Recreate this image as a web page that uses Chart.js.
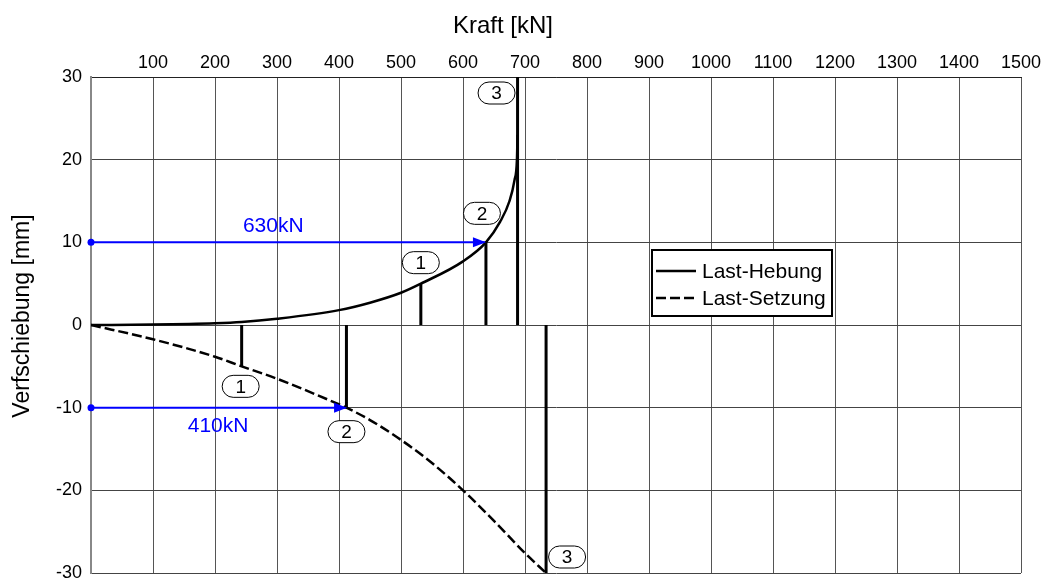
<!DOCTYPE html>
<html>
<head>
<meta charset="utf-8">
<script src="https://cdn.jsdelivr.net/npm/chart.js@4/dist/chart.umd.min.js"></script>
<style>
    html, body { margin: 0; padding: 0; background: #fff; }
    #wrap { width: 1041px; height: 578px; }
</style>
</head>
<body>
<div id="wrap"><canvas id="chart"></canvas></div>
<script>
// Values (Kraft in kN, Verschiebung in mm)
const hebungKraft = [0, 100, 200, 243, 300, 400, 450, 500, 532, 600, 637, 660, 675, 683, 687, 688];
const hebungWeg = [0, 0.05, 0.2, 0.35, 0.75, 1.8, 2.7, 3.9, 5, 7.7, 10, 12.5, 15, 17.5, 20, 23];
const setzungKraft = [0, 100, 200, 243, 300, 400, 412, 450, 500, 550, 600, 650, 700, 734];
const setzungWeg = [0, -1.73, -3.84, -5, -6.5, -9.6, -10, -11.5, -13.9, -16.7, -20, -23.7, -27.6, -30];

// Stufen 1-3 on each curve
const stufenLabels = ['1', '2', '3'];
const hebungStufeKraft = [532, 637, 688];
const hebungStufeWeg = [5, 10, 30];
const setzungStufeKraft = [243, 412, 734];
const setzungStufeWeg = [-5, -10, -30];

// Read-off arrows
const ablesungWeg = [10, -10];
const ablesungKraft = [637, 413];
const ablesungLabels = ['630kN', '410kN'];

// Axes
const kraftTicks = [0, 100, 200, 300, 400, 500, 600, 700, 800, 900, 1000, 1100, 1200, 1300, 1400, 1500];
const wegTicks = [-30, -20, -10, 0, 10, 20, 30];
const xTitle = 'Kraft [kN]';
const yTitle = 'Verfschiebung [mm]';

const FONT = "'Liberation Sans', Arial, sans-serif";
Chart.defaults.font.family = FONT;
Chart.defaults.color = '#000';

function pts(xs, ys) {
    return xs.map((x, i) => ({ x: x, y: ys[i] }));
}

// Build datasets
const datasets = [
    {
        label: 'Last-Hebung',
        data: pts(hebungKraft, hebungWeg),
        borderColor: '#000',
        borderWidth: 2.5,
        pointRadius: 0,
        cubicInterpolationMode: 'monotone',
        showLine: true
    },
    {
        label: 'Last-Setzung',
        data: pts(setzungKraft, setzungWeg),
        borderColor: '#000',
        borderWidth: 2.5,
        borderDash: [10, 4],
        pointRadius: 0,
        cubicInterpolationMode: 'monotone',
        showLine: true
    }
];

// Vertical stage lines
[[hebungStufeKraft, hebungStufeWeg], [setzungStufeKraft, setzungStufeWeg]].forEach(([ks, ws]) => {
    ks.forEach((k, i) => {
        datasets.push({
            label: 'stufe',
            data: [{ x: k, y: 0 }, { x: k, y: ws[i] }],
            borderColor: '#000',
            borderWidth: 3,
            pointRadius: 0,
            showLine: true
        });
    });
});

// Blue arrows
ablesungWeg.forEach((w, i) => {
    datasets.push({
        label: 'ablesung',
        data: [{ x: 0, y: w }, { x: ablesungKraft[i], y: w }],
        borderColor: '#0000ff',
        backgroundColor: '#0000ff',
        borderWidth: 2,
        pointRadius: [3.5, 0],
        pointBorderWidth: 0,
        showLine: true,
        clip: false
    });
});

// Titles, labels, arrowheads and legend
const annotations = {
    id: 'annotations',
    afterDatasetsDraw(chart) {
        const ctx = chart.ctx;
        const xs = chart.scales.x;
        const ys = chart.scales.y;

        // axis titles
        ctx.save();
        ctx.fillStyle = '#000';
        ctx.font = '24px ' + FONT;
        ctx.textAlign = 'left';
        ctx.textBaseline = 'alphabetic';
        ctx.fillText(xTitle, 453, 33);
        ctx.translate(29, 316);
        ctx.rotate(-Math.PI / 2);
        ctx.font = '23px ' + FONT;
        ctx.textAlign = 'center';
        ctx.fillText(yTitle, 0, 0);
        ctx.restore();

        // arrowheads
        ctx.save();
        ctx.fillStyle = '#0000ff';
        ablesungWeg.forEach((w, i) => {
            const px = xs.getPixelForValue(ablesungKraft[i]);
            const py = ys.getPixelForValue(w);
            ctx.beginPath();
            ctx.moveTo(px, py);
            ctx.lineTo(px - 13, py - 5);
            ctx.lineTo(px - 13, py + 5);
            ctx.closePath();
            ctx.fill();
        });

        // blue value labels
        ctx.font = '21px ' + FONT;
        ctx.textAlign = 'center';
        ctx.textBaseline = 'middle';
        const labelKraft = [294, 205];
        const labelOff = [-16, 19];
        ablesungLabels.forEach((t, i) => {
            ctx.fillText(t, xs.getPixelForValue(labelKraft[i]), ys.getPixelForValue(ablesungWeg[i]) + labelOff[i]);
        });
        ctx.restore();

        // stage bubbles
        const hebOff = [[0, -21], [-4, -29], [-21, 16]];
        const setOff = [[-1, 20], [0, 24], [21, -16]];
        const bubble = (k, w, off, text) => {
            const cx = xs.getPixelForValue(k) + off[0];
            const cy = ys.getPixelForValue(w) + off[1];
            const bw = 37, bh = 22;
            ctx.save();
            ctx.beginPath();
            ctx.roundRect(cx - bw / 2, cy - bh / 2, bw, bh, bh / 2);
            ctx.fillStyle = '#fff';
            ctx.fill();
            ctx.lineWidth = 1;
            ctx.strokeStyle = '#000';
            ctx.stroke();
            ctx.fillStyle = '#000';
            ctx.font = '19px ' + FONT;
            ctx.textAlign = 'center';
            ctx.textBaseline = 'middle';
            ctx.fillText(text, cx, cy + 1);
            ctx.restore();
        };
        hebungStufeKraft.forEach((k, i) => bubble(k, hebungStufeWeg[i], hebOff[i], stufenLabels[i]));
        setzungStufeKraft.forEach((k, i) => bubble(k, setzungStufeWeg[i], setOff[i], stufenLabels[i]));

        // legend box
        const lx = 652, ly = 250, lw = 180, lh = 66;
        ctx.save();
        ctx.fillStyle = '#fff';
        ctx.fillRect(lx, ly, lw, lh);
        ctx.lineWidth = 2;
        ctx.strokeStyle = '#000';
        ctx.strokeRect(lx, ly, lw, lh);
        ctx.font = '21px ' + FONT;
        ctx.fillStyle = '#000';
        ctx.textAlign = 'left';
        ctx.textBaseline = 'middle';
        [0, 1].forEach(i => {
            const ds = chart.data.datasets[i];
            const yy = ly + 21 + i * 27;
            ctx.beginPath();
            ctx.setLineDash(ds.borderDash || []);
            ctx.lineWidth = 2.5;
            ctx.moveTo(lx + 4, yy);
            ctx.lineTo(lx + 44, yy);
            ctx.stroke();
            ctx.setLineDash([]);
            ctx.fillText(ds.label, lx + 50, yy + 1);
        });
        ctx.restore();
    }
};

new Chart(document.getElementById('chart'), {
    type: 'scatter',
    data: { datasets: datasets },
    options: {
        responsive: true,
        maintainAspectRatio: false,
        animation: false,
        layout: { padding: { left: 0, right: 20, top: 0, bottom: 5 } },
        plugins: {
            legend: { display: false },
            tooltip: { enabled: false }
        },
        scales: {
            x: {
                type: 'linear',
                position: 'top',
                min: 0,
                max: 1500,
                afterBuildTicks: (scale) => { scale.ticks = kraftTicks.map(v => ({ value: v })); },
                afterFit: (scale) => {
                    scale.height = 77;
                    scale.paddingLeft = 0;
                    scale.paddingRight = 0;
                },
                ticks: {
                    font: { size: 18 },
                    padding: 3,
                    maxRotation: 0,
                    autoSkip: false,
                    callback: (v) => v === 0 ? '' : v
                },
                grid: { color: '#555', drawTicks: false },
                border: { color: '#222' }
            },
            y: {
                type: 'linear',
                min: -30,
                max: 30,
                afterBuildTicks: (scale) => { scale.ticks = wegTicks.map(v => ({ value: v })); },
                afterFit: (scale) => {
                    scale.width = 91;
                    scale.paddingTop = 0;
                    scale.paddingBottom = 0;
                },
                ticks: {
                    font: { size: 18 },
                    padding: 9,
                    autoSkip: false
                },
                grid: { color: '#444', drawTicks: false },
                border: { color: '#888', width: 2 }
            }
        }
    },
    plugins: [annotations]
});
</script>
</body>
</html>
